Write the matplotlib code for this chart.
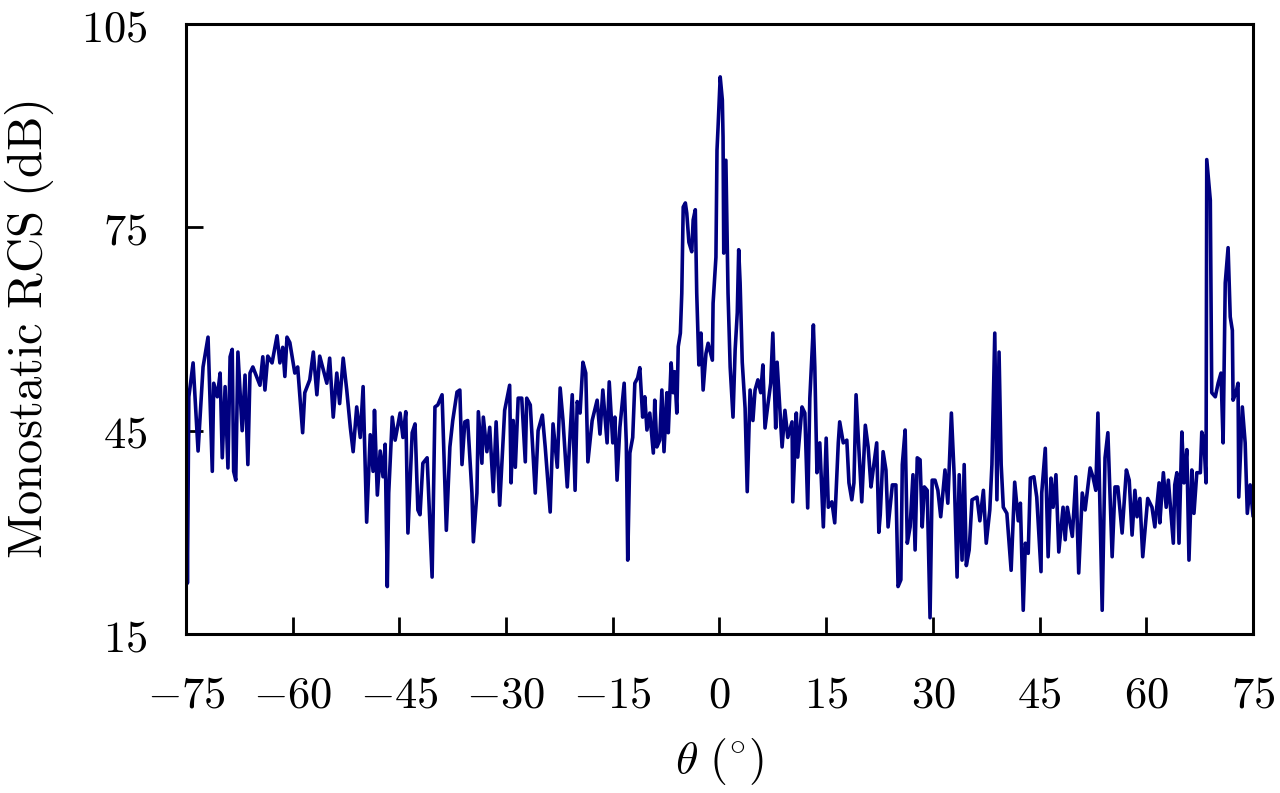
import matplotlib
matplotlib.use("Agg")
import matplotlib.pyplot as plt
from matplotlib.ticker import FuncFormatter

# monostatic RCS vs angle
theta = [
    -75.0, -74.8, -74.6, -74.0, -73.3, -72.6, -71.9, -71.3, -71.1, -70.6,
    -70.2, -69.9, -69.5, -69.1, -68.8, -68.5, -68.3, -68.0, -67.7, -67.1,
    -66.7, -66.3, -66.0, -65.6, -64.6, -64.2, -63.9, -63.5, -62.9, -62.2,
    -61.8, -61.4, -61.1, -60.8, -60.4, -59.7, -59.3, -58.6, -58.3, -57.6,
    -57.1, -56.6, -56.2, -55.7, -55.2, -54.8, -54.3, -53.8, -53.4, -52.9,
    -52.4, -51.9, -51.5, -51.0, -50.5, -50.1, -49.6, -49.1, -48.7, -48.5,
    -48.1, -47.7, -47.3, -47.0, -46.7, -46.5, -46.0, -45.6, -44.9, -44.5,
    -44.1, -43.8, -43.2, -42.8, -42.4, -42.1, -41.7, -41.1, -40.4, -40.0,
    -39.6, -39.0, -38.4, -37.9, -37.5, -36.9, -36.5, -36.2, -35.8, -35.4,
    -34.8, -34.6, -34.1, -33.9, -33.4, -33.2, -32.7, -32.3, -31.8, -31.4,
    -30.9, -30.2, -29.5, -29.3, -29.0, -28.7, -28.3, -27.8, -27.3, -27.1,
    -26.6, -25.9, -25.5, -24.9, -24.5, -23.8, -23.4, -22.8, -22.4, -22.0,
    -21.4, -20.7, -20.3, -20.0, -19.6, -19.2, -18.8, -18.5, -17.9, -17.2,
    -16.8, -16.4, -15.8, -15.5, -15.0, -14.7, -14.4, -14.0, -13.4, -13.1,
    -12.9, -12.6, -12.2, -11.9, -11.5, -11.2, -10.8, -10.5, -10.2, -9.8,
    -9.3, -9.1, -8.8, -8.4, -8.1, -7.8, -7.4, -7.2, -6.8, -6.5,
    -6.3, -6.0, -5.8, -5.5, -5.3, -5.1, -4.8, -4.6, -4.3, -3.9,
    -3.7, -3.4, -3.2, -2.9, -2.6, -2.3, -1.9, -1.6, -1.0, -0.9,
    -0.5, -0.35, -0.2, 0.1, 0.4, 0.5, 0.6, 0.9, 1.2, 1.5,
    1.9, 2.2, 2.5, 2.7, 2.9, 3.2, 3.6, 3.9, 4.3, 4.7,
    5.0, 5.4, 5.8, 6.1, 6.4, 6.8, 7.2, 7.5, 7.9, 8.1,
    8.8, 9.2, 9.6, 10.2, 10.3, 10.8, 11.0, 11.6, 12.0, 12.4,
    12.7, 13.2, 13.4, 13.7, 14.1, 14.6, 15.0, 15.3, 15.8, 16.2,
    16.7, 16.9, 17.4, 17.9, 18.2, 18.6, 18.9, 19.2, 19.6, 20.0,
    20.5, 20.9, 21.3, 21.6, 22.1, 22.4, 22.6, 23.0, 23.4, 23.7,
    24.3, 24.8, 25.1, 25.5, 25.7, 26.1, 26.4, 26.8, 27.2, 27.5,
    27.8, 28.2, 28.5, 28.8, 29.2, 29.6, 29.9, 30.3, 30.7, 31.1,
    31.7, 32.1, 32.6, 33.0, 33.4, 33.7, 34.1, 34.4, 34.7, 35.1,
    35.5, 36.2, 36.6, 37.1, 37.5, 38.0, 38.3, 38.7, 39.0, 39.3,
    39.6, 39.9, 40.4, 41.0, 41.5, 42.0, 42.3, 42.7, 43.0, 43.4,
    43.7, 44.2, 44.6, 45.2, 45.3, 45.8, 46.2, 46.6, 46.9, 47.3,
    47.7, 48.3, 48.6, 48.9, 49.6, 50.1, 50.5, 51.0, 51.4, 52.1,
    52.5, 52.9, 53.2, 53.8, 54.2, 54.6, 55.2, 55.6, 56.0, 56.6,
    57.2, 57.6, 58.0, 58.4, 58.7, 59.1, 59.5, 60.2, 60.8, 61.2,
    61.8, 61.9, 62.4, 62.8, 63.1, 63.8, 64.0, 64.3, 64.6, 65.0,
    65.3, 65.7, 66.0, 66.4, 66.7, 67.1, 67.6, 67.8, 68.1, 68.4,
    68.5, 69.0, 69.2, 69.7, 70.1, 70.5, 70.8, 71.1, 71.5, 71.8,
    72.1, 72.2, 72.6, 72.9, 73.0, 73.5, 73.9, 74.2, 74.6, 75.0,
]
rcs_db = [
    52.5, 22.5, 50.0, 55.0, 42.0, 54.4, 58.8, 39.0, 52.0, 50.0,
    53.5, 41.0, 51.5, 39.5, 55.9, 57.0, 39.0, 37.7, 56.6, 45.0,
    53.2, 40.0, 53.5, 54.4, 51.7, 55.9, 51.0, 56.0, 55.0, 59.0,
    55.0, 57.3, 53.0, 58.8, 58.0, 53.5, 54.4, 44.7, 50.6, 52.5,
    56.6, 50.3, 56.0, 54.0, 52.0, 55.7, 47.0, 53.5, 49.0, 55.7,
    51.0, 45.5, 41.9, 48.5, 44.0, 51.5, 31.5, 44.4, 39.0, 48.0,
    35.5, 42.0, 38.2, 43.0, 22.0, 35.8, 47.0, 43.6, 47.6, 44.0,
    47.8, 29.9, 44.7, 46.0, 33.3, 32.6, 40.2, 41.0, 23.4, 48.5,
    48.8, 50.3, 30.3, 42.6, 46.5, 50.7, 51.0, 40.0, 46.3, 46.5,
    35.8, 28.6, 35.8, 47.8, 40.2, 47.0, 41.9, 45.5, 36.0, 46.3,
    34.0, 48.0, 51.7, 37.3, 46.5, 39.6, 49.8, 49.8, 40.4, 49.8,
    48.8, 35.8, 45.0, 47.3, 42.6, 33.0, 46.0, 39.6, 51.3, 46.5,
    36.7, 50.3, 36.2, 49.3, 47.6, 55.1, 53.5, 40.4, 46.5, 49.5,
    44.5, 51.0, 43.2, 52.2, 43.2, 47.0, 37.7, 45.5, 52.0, 43.2,
    25.9, 41.7, 44.0, 52.0, 52.8, 54.3, 47.0, 50.0, 45.1, 47.6,
    41.7, 49.5, 42.6, 43.6, 51.0, 41.9, 50.6, 44.7, 55.0, 50.6,
    53.7, 47.6, 57.4, 59.4, 65.3, 78.0, 78.6, 77.1, 72.8, 71.4,
    76.1, 77.6, 65.3, 54.7, 59.4, 51.0, 56.4, 57.9, 55.4, 63.8,
    70.6, 86.4, 89.8, 97.2, 93.8, 88.3, 71.2, 84.9, 65.3, 54.4,
    47.0, 56.9, 62.4, 71.7, 66.8, 55.1, 48.3, 36.0, 51.0, 46.5,
    51.0, 52.5, 50.6, 54.7, 45.4, 48.8, 52.0, 59.4, 45.4, 55.1,
    42.6, 48.0, 44.0, 46.3, 34.5, 47.6, 41.1, 48.5, 47.6, 33.6,
    49.8, 60.6, 54.4, 38.8, 43.2, 30.8, 43.9, 33.7, 34.5, 31.4,
    43.2, 46.3, 43.2, 43.6, 37.3, 34.8, 37.3, 50.3, 42.2, 34.5,
    45.8, 42.6, 36.7, 39.2, 43.2, 30.0, 32.6, 41.9, 39.2, 30.8,
    37.0, 37.0, 22.0, 23.0, 40.0, 45.1, 28.4, 30.8, 38.5, 27.4,
    41.0, 40.7, 30.8, 36.7, 36.2, 17.4, 37.7, 37.7, 36.2, 32.3,
    39.2, 34.3, 47.6, 38.2, 23.4, 38.5, 25.9, 40.0, 25.1, 27.4,
    34.8, 35.2, 31.7, 36.2, 28.4, 33.3, 40.0, 59.4, 34.8, 56.6,
    40.0, 33.7, 32.8, 24.4, 37.4, 31.7, 34.3, 18.5, 28.4, 26.9,
    38.0, 38.2, 35.2, 24.2, 35.8, 42.4, 26.4, 38.0, 33.7, 38.5,
    27.1, 33.7, 28.9, 33.7, 29.4, 38.2, 24.0, 35.8, 33.3, 39.5,
    38.2, 36.2, 47.6, 18.5, 41.0, 44.7, 26.4, 36.7, 36.7, 29.9,
    39.2, 37.7, 29.6, 36.2, 32.3, 35.0, 26.4, 35.0, 33.7, 30.8,
    37.3, 31.4, 38.8, 33.7, 37.7, 28.4, 37.0, 38.8, 28.4, 44.8,
    37.3, 42.2, 25.9, 39.2, 32.8, 38.8, 38.8, 44.8, 43.6, 37.3,
    85.0, 79.0, 50.6, 50.0, 52.0, 53.5, 43.2, 66.8, 72.0, 61.8,
    59.8, 49.5, 50.6, 52.0, 35.2, 48.5, 43.2, 32.8, 37.0, 32.5,
]

xticks = [-75, -60, -45, -30, -15, 0, 15, 30, 45, 60, 75]
yticks = [15, 45, 75, 105]

plt.rcParams['mathtext.fontset'] = 'cm'
plt.rcParams['font.family'] = 'serif'

fig = plt.figure(figsize=(12.8, 7.93), dpi=100)
ax = fig.add_axes([0.1453, 0.2005, 0.8336, 0.7692])

ax.plot(theta, rcs_db, color='#000080', linewidth=2.6)

ax.set_xlim(-75, 75)
ax.set_ylim(15, 105)
ax.set_xticks(xticks)
ax.set_yticks(yticks)
ax.xaxis.set_major_formatter(FuncFormatter(lambda v, p: r'$%d$' % v))
ax.yaxis.set_major_formatter(FuncFormatter(lambda v, p: r'$%d$' % v))
ax.tick_params(direction='in', length=12, width=2, labelsize=32)
ax.tick_params(axis='x', pad=28)
ax.tick_params(axis='y', pad=28)

for s in ax.spines.values():
    s.set_linewidth(2.2)

ax.set_xlabel(r'$\theta\ ({}^{\circ})$', fontsize=33, labelpad=14)
ax.set_ylabel(r'$\mathrm{Monostatic\ RCS\ (dB)}$', fontsize=35, labelpad=18)

fig.savefig('out.png', dpi=100)
